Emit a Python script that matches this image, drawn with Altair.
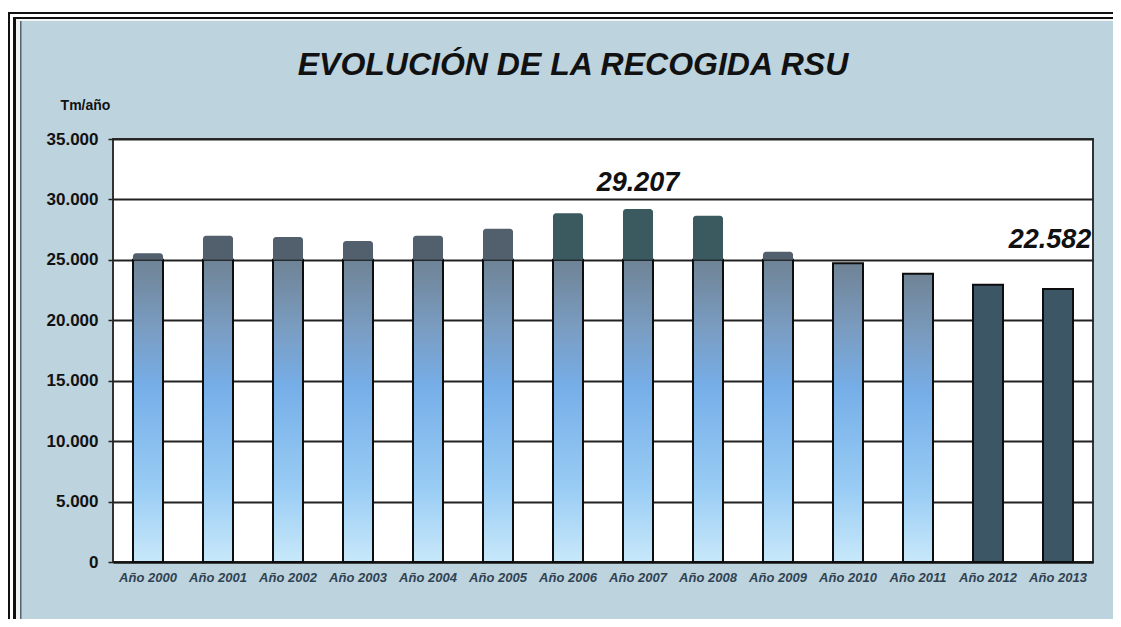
import altair as alt
import pandas as pd

# ---- data ----
anios = ["Año 2000", "Año 2001", "Año 2002", "Año 2003", "Año 2004", "Año 2005",
         "Año 2006", "Año 2007", "Año 2008", "Año 2009", "Año 2010", "Año 2011",
         "Año 2012", "Año 2013"]
toneladas = [25550, 27000, 26890, 26560, 27000, 27570,
             28860, 29207, 28650, 25670, 24720, 23850,
             22950, 22582]
grupo = ["gris", "gris", "gris", "gris", "gris", "gris",
         "verde", "verde", "verde", "gris", "gris", "gris",
         "oscuro", "oscuro"]
ticks_y = [0, 5000, 10000, 15000, 20000, 25000, 30000, 35000]
UMBRAL = 25000

df = pd.DataFrame({"anio": anios, "t": toneladas, "grupo": grupo})

FONT = "Liberation Sans"
BG = "#bdd3dd"

x_enc = alt.X("anio:N", sort=anios,
              scale=alt.Scale(paddingInner=0.5714, paddingOuter=0.2857),
              axis=alt.Axis(title=None, labelAngle=0, labelFont=FONT,
                            labelFontStyle="italic", labelFontWeight="bold",
                            labelFontSize=13, labelColor="#2f4252",
                            ticks=False, labelPadding=9, domain=True,
                            domainColor="#111111", domainWidth=2, grid=False))

y_axis = alt.Axis(values=ticks_y,
                  labelExpr="replace(format(datum.value, ','), ',', '.')",
                  grid=True, gridColor="#222222", gridWidth=2,
                  domain=False, ticks=True, tickSize=5, tickColor="#222222",
                  tickWidth=1.5, labelPadding=10, labelFont=FONT,
                  labelFontWeight="bold", labelFontSize=17, labelColor="#111111",
                  title="Tm/año", titleAngle=0, titleX=-28, titleY=-34,
                  titleAlign="center", titleBaseline="middle", titleFont=FONT,
                  titleFontSize=14, titleFontWeight="bold", titleColor="#111111")
y_scale = alt.Scale(domain=[0, 35000], nice=False)

gradiente = alt.Gradient(
    gradient="linear", x1=0, y1=0, x2=0, y2=1,
    stops=[alt.GradientStop(offset=0, color="#6f8395"),
           alt.GradientStop(offset=0.22, color="#7a9cc0"),
           alt.GradientStop(offset=0.42, color="#76aee8"),
           alt.GradientStop(offset=0.75, color="#98ccf4"),
           alt.GradientStop(offset=1, color="#c8e8fa")])

base = alt.Chart(df)

barras = base.transform_filter("datum.grupo != 'oscuro'").transform_calculate(
    tope=f"min(datum.t, {UMBRAL})"
).mark_bar(color=gradiente, stroke="#0d0d0d", strokeWidth=2).encode(
    x=x_enc, y=alt.Y("tope:Q", scale=y_scale, axis=y_axis))

tapas = base.transform_filter(f"datum.t > {UMBRAL} && datum.grupo != 'oscuro'").transform_calculate(
    umbral=str(UMBRAL)
).mark_bar(cornerRadiusTopLeft=3, cornerRadiusTopRight=3).encode(
    x=x_enc, y=alt.Y("t:Q", scale=y_scale, axis=y_axis), y2="umbral:Q",
    color=alt.Color("grupo:N", scale=alt.Scale(domain=["gris", "verde"],
                                               range=["#525f6c", "#3a5a60"]),
                    legend=None))

oscuras = base.transform_filter("datum.grupo == 'oscuro'").mark_bar(
    color="#3d5666", stroke="#0d0d0d", strokeWidth=2).encode(
    x=x_enc, y=alt.Y("t:Q", scale=y_scale, axis=y_axis))

etq_expr = "replace(format(datum.t, ','), ',', '.')"
etq_max = base.transform_filter("datum.anio == 'Año 2007'").transform_calculate(
    etq=etq_expr).mark_text(font=FONT, fontSize=27, fontWeight="bold",
                            fontStyle="italic", color="#111111",
                            baseline="alphabetic", dy=-18).encode(
    x=x_enc, y=alt.Y("t:Q", scale=y_scale, axis=y_axis), text="etq:N")
etq_fin = base.transform_filter("datum.anio == 'Año 2013'").transform_calculate(
    etq=etq_expr).mark_text(font=FONT, fontSize=27, fontWeight="bold",
                            fontStyle="italic", color="#111111",
                            baseline="alphabetic", dy=-41, dx=-8).encode(
    x=x_enc, y=alt.Y("t:Q", scale=y_scale, axis=y_axis), text="etq:N")

# ---- decorative frame (outside the plot area) ----
uno = alt.Chart(pd.DataFrame({"k": [0]}))


def marco(x0, x1, y0, y1, col):
    return uno.mark_rect(color=col).encode(
        x=alt.value(x0), x2=alt.value(x1), y=alt.value(y0), y2=alt.value(y1))


frame = [
    marco(-105, 1000, -131, -127, "white"),
    marco(-105, 1000, -127, -125, "#111111"),
    marco(-105, -103, -127, 480, "#111111"),
    marco(-103, 1000, -125, -122, "white"),
    marco(-103, -100, -125, 480, "white"),
    marco(-100, 1000, -122, -120, "#111111"),
    marco(-100, -97, -122, 480, "#111111"),
    marco(-97, 1000, -120, -118, "#f2f4f4"),
    marco(-97, -93, -120, 480, "#f2f4f4"),
    marco(-93, -91.5, -118, 480, "#556570"),
]

chart = alt.layer(*frame, barras, tapas, oscuras, etq_max, etq_fin).properties(
    width=980, height=423,
    padding={"left": 105, "top": 131, "right": 20, "bottom": 57},
    autosize=alt.AutoSizeParams(type="none"),
    background=BG,
    title=alt.TitleParams("EVOLUCIÓN DE LA RECOGIDA RSU", font=FONT, fontSize=32,
                          fontWeight="bold", fontStyle="italic", color="#111111",
                          anchor="middle", dx=-30, offset=0, dy=99,
                          baseline="alphabetic"),
).configure_view(fill="white", stroke="#333333", strokeWidth=2)

chart.save("out.html", embed_options={"renderer": "svg", "actions": False})
